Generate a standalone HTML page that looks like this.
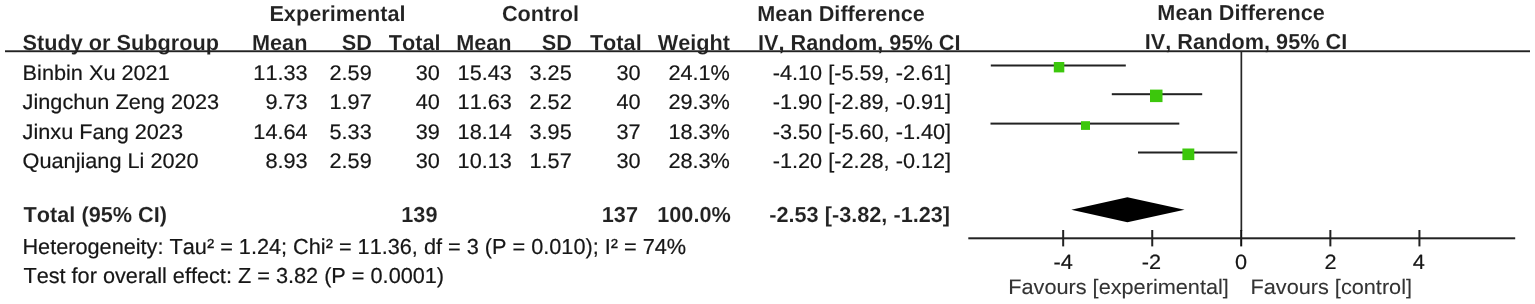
<!DOCTYPE html>
<html lang="en">
<head>
<meta charset="utf-8">
<title>Forest plot</title>
<style>
html,body{margin:0;padding:0;background:#fff}
body{width:1535px;height:304px;overflow:hidden}
svg{display:block}
text{font-family:"Liberation Sans",Arial,Helvetica,sans-serif;font-size:21.7px;fill:#161616;white-space:pre;font-kerning:none;font-variant-ligatures:none;text-rendering:geometricPrecision;stroke:#161616;stroke-width:0.2px;stroke-linejoin:round}
.b{font-weight:bold;fill:#222;stroke:#fff;stroke-width:0.2px;stroke-opacity:0.5;paint-order:fill stroke}
.f{fill:#333;stroke:#333;stroke-width:0.1px}
.e{text-anchor:end}
.m{text-anchor:middle}
</style>
</head>
<body>
<svg width="1535" height="304" viewBox="0 0 1535 304">
<rect width="1535" height="304" fill="#fff"/>
<text x="337.50" y="20.70" class="b m">Experimental</text>
<text x="540.50" y="20.70" class="b m">Control</text>
<text x="757.25" y="20.70" class="b">Mean Difference</text>
<text x="1241.10" y="20.30" class="b m">Mean Difference</text>
<text x="22.60" y="49.50" class="b">Study or Subgroup</text>
<text x="307.40" y="49.50" class="b e">Mean</text>
<text x="372.00" y="49.50" class="b e">SD</text>
<text x="440.60" y="49.50" class="b e">Total</text>
<text x="511.60" y="49.50" class="b e">Mean</text>
<text x="572.00" y="49.50" class="b e">SD</text>
<text x="641.70" y="49.50" class="b e">Total</text>
<text x="730.00" y="49.50" class="b e">Weight</text>
<text x="758.00" y="49.50" class="b">IV, Random, 95% CI</text>
<text x="1246.00" y="49.10" class="b m">IV, Random, 95% CI</text>
<text transform="translate(22.60 80.40) scale(1 0.975)">Binbin Xu 2021</text>
<text transform="translate(307.60 80.40) scale(1 0.975)" class="e">11.33</text>
<text transform="translate(371.70 80.40) scale(1 0.975)" class="e">2.59</text>
<text transform="translate(439.90 80.40) scale(1 0.975)" class="e">30</text>
<text transform="translate(511.90 80.40) scale(1 0.975)" class="e">15.43</text>
<text transform="translate(571.70 80.40) scale(1 0.975)" class="e">3.25</text>
<text transform="translate(640.60 80.40) scale(1 0.975)" class="e">30</text>
<text transform="translate(729.90 80.40) scale(1 0.975)" class="e">24.1%</text>
<text transform="translate(772.70 80.40) scale(1 0.975)">-4.10 [-5.59, -2.61]</text>
<text transform="translate(22.60 109.20) scale(1 0.975)">Jingchun Zeng 2023</text>
<text transform="translate(307.60 109.20) scale(1 0.975)" class="e">9.73</text>
<text transform="translate(371.70 109.20) scale(1 0.975)" class="e">1.97</text>
<text transform="translate(439.90 109.20) scale(1 0.975)" class="e">40</text>
<text transform="translate(511.90 109.20) scale(1 0.975)" class="e">11.63</text>
<text transform="translate(571.70 109.20) scale(1 0.975)" class="e">2.52</text>
<text transform="translate(640.60 109.20) scale(1 0.975)" class="e">40</text>
<text transform="translate(729.90 109.20) scale(1 0.975)" class="e">29.3%</text>
<text transform="translate(772.70 109.20) scale(1 0.975)">-1.90 [-2.89, -0.91]</text>
<text transform="translate(22.60 138.80) scale(1 0.975)">Jinxu Fang 2023</text>
<text transform="translate(307.60 138.80) scale(1 0.975)" class="e">14.64</text>
<text transform="translate(371.70 138.80) scale(1 0.975)" class="e">5.33</text>
<text transform="translate(439.90 138.80) scale(1 0.975)" class="e">39</text>
<text transform="translate(511.90 138.80) scale(1 0.975)" class="e">18.14</text>
<text transform="translate(571.70 138.80) scale(1 0.975)" class="e">3.95</text>
<text transform="translate(640.60 138.80) scale(1 0.975)" class="e">37</text>
<text transform="translate(729.90 138.80) scale(1 0.975)" class="e">18.3%</text>
<text transform="translate(772.70 138.80) scale(1 0.975)">-3.50 [-5.60, -1.40]</text>
<text transform="translate(22.60 167.50) scale(1 0.975)">Quanjiang Li 2020</text>
<text transform="translate(307.60 167.50) scale(1 0.975)" class="e">8.93</text>
<text transform="translate(371.70 167.50) scale(1 0.975)" class="e">2.59</text>
<text transform="translate(439.90 167.50) scale(1 0.975)" class="e">30</text>
<text transform="translate(511.90 167.50) scale(1 0.975)" class="e">10.13</text>
<text transform="translate(571.70 167.50) scale(1 0.975)" class="e">1.57</text>
<text transform="translate(640.60 167.50) scale(1 0.975)" class="e">30</text>
<text transform="translate(729.90 167.50) scale(1 0.975)" class="e">28.3%</text>
<text transform="translate(772.70 167.50) scale(1 0.975)">-1.20 [-2.28, -0.12]</text>
<text x="23.60" y="222.30" class="b">Total (95% CI)</text>
<text x="437.50" y="222.30" class="b e">139</text>
<text x="638.00" y="222.30" class="b e">137</text>
<text x="730.80" y="222.30" class="b e">100.0%</text>
<text x="769.25" y="222.30" class="b">-2.53 [-3.82, -1.23]</text>
<text x="22.45" y="253.60">Heterogeneity: Tau² = 1.24; Chi² = 11.36, df = 3 (P = 0.010); I² = 74%</text>
<text x="23.40" y="282.50">Test for overall effect: Z = 3.82 (P = 0.0001)</text>
<text transform="translate(1063.10 268.80) scale(1 0.95)" class="m">-4</text>
<text transform="translate(1151.40 268.80) scale(1 0.95)" class="m">-2</text>
<text transform="translate(1241.15 268.80) scale(1 0.95)" class="m">0</text>
<text transform="translate(1330.55 268.80) scale(1 0.95)" class="m">2</text>
<text transform="translate(1418.75 268.80) scale(1 0.95)" class="m">4</text>
<text transform="translate(1008.25 294.40) scale(1 0.96)" class="f">Favours [experimental]</text>
<text transform="translate(1250.50 294.40) scale(1 0.96)" class="f">Favours [control]</text>
<rect x="5" y="50.3" width="1525" height="1.9" fill="#222"/>
<rect x="1240.50" y="51" width="1.7" height="180" fill="#262626"/>
<rect x="1240.20" y="230" width="2" height="16.4" fill="#111"/>
<rect x="968.3" y="237.3" width="546.9" height="2" fill="#222"/>
<rect x="1062.18" y="230" width="2" height="16.4" fill="#222"/>
<rect x="1151.24" y="230" width="2" height="16.4" fill="#222"/>
<rect x="1329.36" y="230" width="2" height="16.4" fill="#222"/>
<rect x="1418.42" y="230" width="2" height="16.4" fill="#222"/>
<rect x="990.80" y="64.50" width="135.00" height="2" fill="#222"/>
<rect x="1053.80" y="62.00" width="10.50" height="10.40" fill="#3cc70c"/>
<rect x="1111.80" y="93.20" width="90.40" height="2" fill="#222"/>
<rect x="1150.00" y="89.60" width="12.50" height="12.50" fill="#3cc70c"/>
<rect x="990.50" y="122.60" width="188.80" height="2" fill="#222"/>
<rect x="1081.00" y="121.20" width="9.00" height="8.70" fill="#3cc70c"/>
<rect x="1138.00" y="151.50" width="99.30" height="2" fill="#222"/>
<rect x="1182.40" y="148.50" width="11.90" height="11.60" fill="#3cc70c"/>
<polygon points="1071.3,209.7 1127.4,197.3 1184.5,209.7 1127.4,222.3" fill="#000"/>
</svg>
</body>
</html>
